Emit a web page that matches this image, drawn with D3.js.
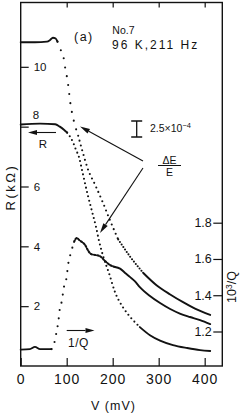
<!DOCTYPE html>
<html>
<head>
<meta charset="utf-8">
<script src="https://cdn.jsdelivr.net/npm/d3@7"></script>
<style>
  html, body { margin: 0; padding: 0; background: #fff; }
  svg { display: block; font-family: 'Liberation Sans', Arial, sans-serif; }
</style>
</head>
<body>
<svg id="chart" width="245" height="415"></svg>
<script>
// tick values
const vTicks = [0, 100, 200, 300, 400];
const rTicks = [2, 4, 6, 8, 10];
const qTicks = [1.2, 1.4, 1.6, 1.8];

// R (kOhm) against V (mV)
const rV = [0, 42, 75, 85, 94, 101, 107, 114, 120, 127, 133, 138, 146, 155, 164, 170,
  180, 192, 205, 222, 242, 259, 281, 303, 331, 362, 390, 412];
const rVal = [8.07, 8.10, 8.08, 8.0, 7.9, 7.8, 7.67, 7.47, 7.23, 6.97, 6.57, 6.23, 5.70,
  5.17, 4.63, 4.2, 3.63, 3.1, 2.47, 1.97, 1.57, 1.30, 1.03, 0.85, 0.70, 0.60, 0.53, 0.50];

// dE/E (units of 1e-4, relative to the low-V plateau)
const eV = [0, 31, 57, 64, 70, 76, 80, 85, 93, 96, 100, 104, 107, 111, 117, 125, 133, 147,
  162, 179, 194, 212, 238, 266, 296, 325, 353, 379, 412];
const eVal = [0, 0, 0.1, 0.36, 0.72, 0.6, 0.1, -0.9, -2.3, -3.7, -5.2, -7.1, -9.0, -10.8,
  -12.7, -14.6, -16.7, -20.0, -22.3, -25.1, -27.8, -30.8, -33.5, -36.0, -38.0, -39.4,
  -40.6, -41.6, -42.6];

// 10^3/Q against V (mV)
const qV = [0, 20, 31, 42, 67, 72, 75, 78, 82, 85, 89, 94, 100, 103, 107, 112, 116, 122,
  127, 133, 140, 146, 153, 162, 172, 183, 194, 205, 216, 227, 238, 248, 259, 281, 303,
  325, 346, 368, 390, 412];
const qVal = [1.10, 1.103, 1.115, 1.103, 1.103, 1.126, 1.159, 1.199, 1.258, 1.324, 1.363,
  1.445, 1.502, 1.567, 1.614, 1.660, 1.694, 1.716, 1.705, 1.694, 1.677, 1.649, 1.627,
  1.622, 1.616, 1.590, 1.567, 1.556, 1.547, 1.523, 1.50, 1.478, 1.445, 1.396, 1.357,
  1.324, 1.299, 1.28, 1.263, 1.241];

const ink = '#121212';
const frame = { left: 20.7, right: 222.3, top: 2.5, bottom: 366 };

const svg = d3.select('#chart');

const x = d3.scaleLinear().domain([0, 438.3]).range([frame.left, frame.right]);
const yR = d3.scaleLinear().domain([0, 12.15]).range([frame.bottom, frame.top]);
const yQ = d3.scaleLinear().domain([1.2, 1.8]).range([331.5, 222.7]);
const yE = d3.scaleLinear().domain([-45, 0]).range([42.3 + 45 * 6.4, 42.3]);

// frame
svg.append('rect')
  .attr('x', frame.left)
  .attr('y', frame.top)
  .attr('width', frame.right - frame.left)
  .attr('height', frame.bottom - frame.top)
  .attr('fill', 'none')
  .attr('stroke', ink)
  .attr('stroke-width', 1.4);

const styleAxis = (g, size) => {
  g.select('.domain').remove();
  g.attr('font-family', null).attr('font-size', size);
  g.selectAll('line').attr('stroke', ink).attr('stroke-width', 1.2);
  g.selectAll('text').attr('fill', ink);
};

svg.append('g')
  .attr('transform', `translate(0,${frame.bottom})`)
  .call(d3.axisBottom(x).tickValues(vTicks).tickSizeInner(-8).tickSizeOuter(0).tickPadding(8))
  .call(g => styleAxis(g, 14))
  .selectAll('text')
  .attr('letter-spacing', 1);

svg.append('g')
  .attr('transform', `translate(0,${frame.top})`)
  .call(d3.axisTop(x).tickValues(vTicks.slice(1)).tickSizeInner(-5).tickSizeOuter(0).tickFormat(''))
  .call(g => styleAxis(g, 10));

const leftAxis = svg.append('g')
  .attr('transform', `translate(${frame.left},0)`)
  .call(d3.axisRight(yR).tickValues(rTicks).tickSizeInner(8).tickSizeOuter(0).tickPadding(5))
  .call(g => styleAxis(g, 11.5));
leftAxis.selectAll('.tick').filter(d => d === 8).select('text').attr('y', -11.5).attr('x', 12);

svg.append('g')
  .attr('transform', `translate(${frame.right},0)`)
  .call(d3.axisLeft(yQ).tickValues(qTicks).tickSizeInner(9).tickSizeOuter(0).tickPadding(1.5)
    .tickFormat(d3.format('.1f')))
  .call(g => styleAxis(g, 12.5));

// curves, drawn in pieces: solid where the recorder trace is dense, dotted where it is sparse
const drawCurve = (vs, vals, yScale, pieces) => {
  const pts = vs.map((v, i) => [v, vals[i]]);
  const line = d3.line()
    .x(d => x(d[0]))
    .y(d => yScale(d[1]))
    .curve(d3.curveMonotoneX);
  pieces.forEach((p) => {
    const seg = pts.filter(d => d[0] >= p.from && d[0] <= p.to);
    svg.append('path')
      .datum(seg)
      .attr('d', line)
      .attr('fill', 'none')
      .attr('stroke', ink)
      .attr('stroke-width', p.dash ? 2.1 : 1.9)
      .attr('stroke-linecap', 'round')
      .attr('stroke-linejoin', 'round')
      .attr('stroke-dasharray', p.dash);
  });
};

drawCurve(eV, eVal, yE, [
  { from: 0, to: 80, dash: null },
  { from: 80, to: 125, dash: '0 9' },
  { from: 125, to: 212, dash: '0 5' },
  { from: 212, to: 266, dash: '0 3' },
  { from: 266, to: 420, dash: null },
]);

drawCurve(rV, rVal, yR, [
  { from: 0, to: 101, dash: null },
  { from: 101, to: 259, dash: '0 4.5' },
  { from: 259, to: 420, dash: null },
]);

drawCurve(qV, qVal, yQ, [
  { from: 0, to: 67, dash: null },
  { from: 67, to: 116, dash: '0 8' },
  { from: 116, to: 205, dash: '1.5 1.8' },
  { from: 205, to: 420, dash: null },
]);

// arrows
const arrow = (x1, y1, x2, y2, len, half, width) => {
  const a = Math.atan2(y2 - y1, x2 - x1);
  const bx = x2 - len * Math.cos(a);
  const by = y2 - len * Math.sin(a);
  svg.append('line')
    .attr('x1', x1).attr('y1', y1).attr('x2', bx).attr('y2', by)
    .attr('stroke', ink).attr('stroke-width', width);
  const px = -Math.sin(a) * half;
  const py = Math.cos(a) * half;
  svg.append('polygon')
    .attr('points', [[x2, y2], [bx + px, by + py], [bx - px, by - py]].map(p => p.join(',')).join(' '))
    .attr('fill', ink);
};

arrow(56, 132.5, 28, 132.5, 9, 2.6, 1.1);
arrow(66.7, 330.5, 94.5, 330.5, 9, 2.6, 1.1);
arrow(143, 161, 80, 126.5, 10, 2.6, 1.1);
arrow(143, 168, 100, 233, 10, 2.6, 1.1);

// scale bar for dE/E
const barX = 136.7;
const barTop = yE(-12.3);
const barBot = yE(-14.8);
svg.append('path')
  .attr('d', `M${barX},${barTop}V${barBot}M${barX - 5.5},${barTop}H${barX + 5.5}M${barX - 5.5},${barBot}H${barX + 5.5}`)
  .attr('stroke', ink)
  .attr('stroke-width', 1.3)
  .attr('fill', 'none');

const txt = (tx, ty, s, size, anchor) => svg.append('text')
  .attr('x', tx).attr('y', ty)
  .attr('font-size', size)
  .attr('text-anchor', anchor || 'start')
  .attr('fill', ink)
  .text(s);

const sb = txt(150, 131.5, '2.5\u00d710', 10.5);
sb.append('tspan').attr('dy', -4).attr('font-size', 7.5).text('\u22124');

txt(169.5, 163.5, '\u0394E', 10.5, 'middle');
svg.append('line')
  .attr('x1', 158).attr('x2', 181).attr('y1', 165.5).attr('y2', 165.5)
  .attr('stroke', ink).attr('stroke-width', 1);
txt(169.5, 175.7, 'E', 10.5, 'middle');

txt(43, 148.3, 'R', 11.5, 'middle');
txt(68, 346.5, '1/Q', 12).attr('letter-spacing', 0.5);

txt(74, 40.5, '(a)', 12.5).attr('letter-spacing', 1.5);
txt(112.3, 34.3, 'No.7', 10.5);
txt(112, 49.3, '96 K,211 Hz', 12).attr('letter-spacing', 2);

// axis titles
txt(113.5, 409.5, 'V (mV)', 12.5, 'middle').attr('letter-spacing', 1);
txt(0, 0, 'R(k\u03a9)', 13, 'middle')
  .attr('letter-spacing', 2.5)
  .attr('transform', 'translate(14.5,187) rotate(-90)');
const ql = txt(0, 0, '10', 12.5, 'middle')
  .attr('transform', 'translate(236,287) rotate(-90)');
ql.append('tspan').attr('dy', -4.5).attr('font-size', 8.5).text('3');
ql.append('tspan').attr('dy', 4.5).text('/Q');
</script>
</body>
</html>
